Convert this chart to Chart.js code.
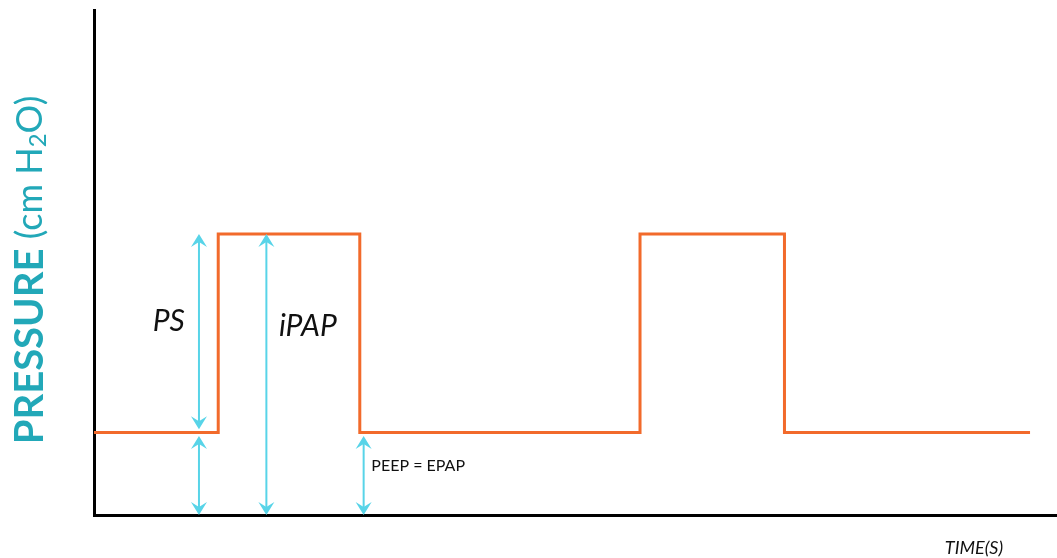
<!DOCTYPE html>
<html>
<head>
<meta charset="utf-8">
<script src="https://cdn.jsdelivr.net/npm/chart.js@4"></script>
<style>
    html, body { margin: 0; padding: 0; background: #fff; }
    #wrap { width: 1057px; height: 558px; }
</style>
</head>
<body>
<div id="wrap"><canvas id="pressureChart"></canvas></div>
<script>
// pressure trace (time in s, pressure in cm H2O)
const times = [0, 1.29, 2.76, 5.67, 7.17, 9.72];
const pressures = [4.9, 16.7, 4.9, 16.7, 4.9, 4.9];

// annotation arrows: x position and start/end pressure
const arrowX = [1.09, 1.09, 1.79, 2.80];
const arrowFrom = [5.1, 0, 0, 0];
const arrowTo = [16.7, 4.7, 16.7, 4.7];

// text labels
const labelText = ['PS', 'iPAP', 'PEEP = EPAP'];
const labelX = [0.61, 1.92, 2.88];
const labelY = [11.5, 11.2, 2.9];

const ORANGE = '#f26a2b';
const CYAN = '#58d4e8';
const TEAL = '#22a8b8';

function drawHead(ctx, x, y, dir) {
    // dir = -1 points up, 1 points down
    ctx.beginPath();
    ctx.moveTo(x, y);
    ctx.lineTo(x - 8, y - dir * 13);
    ctx.lineTo(x, y - dir * 8);
    ctx.lineTo(x + 8, y - dir * 13);
    ctx.closePath();
    ctx.fill();
}

const annotations = {
    id: 'annotations',
    afterDatasetsDraw(chart) {
        const ctx = chart.ctx;
        const xs = chart.scales.x, ys = chart.scales.y;
        ctx.save();
        ctx.strokeStyle = CYAN;
        ctx.fillStyle = CYAN;
        ctx.lineWidth = 2;
        arrowX.forEach((t, i) => {
            const px = xs.getPixelForValue(t);
            const y1 = ys.getPixelForValue(arrowFrom[i]);
            const y2 = ys.getPixelForValue(arrowTo[i]);
            ctx.beginPath();
            ctx.moveTo(px, y1 - 4);
            ctx.lineTo(px, y2 + 4);
            ctx.stroke();
            drawHead(ctx, px, y2, -1);
            drawHead(ctx, px, y1, 1);
        });

        ctx.fillStyle = '#111';
        ctx.textBaseline = 'middle';
        ctx.textAlign = 'left';
        labelText.forEach((txt, i) => {
            ctx.font = i < 2 ? 'italic 30px Lato' : '16px Lato';
            ctx.fillText(txt, xs.getPixelForValue(labelX[i]), ys.getPixelForValue(labelY[i]));
        });

        // x axis title
        ctx.font = 'italic 18px Lato';
        ctx.textAlign = 'center';
        ctx.fillText('TIME(S)', 974, 548);

        // y axis title with bold word and subscript
        ctx.translate(28, 270);
        ctx.rotate(-Math.PI / 2);
        ctx.fillStyle = TEAL;
        ctx.textAlign = 'left';
        ctx.textBaseline = 'middle';
        const parts = [
            ['bold 40px Lato', 'PRESSURE', 0],
            ['36px Lato', ' (cm H', 0],
            ['24px Lato', '2', 8],
            ['36px Lato', 'O)', 0]
        ];
        let total = 0;
        parts.forEach(p => { ctx.font = p[0]; total += ctx.measureText(p[1]).width; });
        let cx = -total / 2;
        parts.forEach(p => {
            ctx.font = p[0];
            ctx.fillText(p[1], cx, p[2] + 2);
            cx += ctx.measureText(p[1]).width;
        });
        ctx.restore();
    }
};

new Chart(document.getElementById('pressureChart'), {
    type: 'line',
    data: {
        datasets: [{
            data: times.map((t, i) => ({ x: t, y: pressures[i] })),
            borderColor: ORANGE,
            borderWidth: 3,
            stepped: 'before',
            pointRadius: 0,
            fill: false
        }]
    },
    options: {
        responsive: true,
        maintainAspectRatio: false,
        animation: false,
        layout: { padding: { top: 10, left: 0, right: 0, bottom: 0 } },
        plugins: {
            legend: { display: false },
            tooltip: { enabled: false }
        },
        scales: {
            x: {
                type: 'linear',
                min: 0,
                max: 10,
                grid: { display: false },
                ticks: { display: false },
                border: { color: '#000', width: 3 },
                afterFit(scale) { scale.height = 43; }
            },
            y: {
                min: 0,
                max: 30,
                grid: { display: false },
                ticks: { display: false },
                border: { color: '#000', width: 3 },
                afterFit(scale) { scale.width = 94; }
            }
        }
    },
    plugins: [annotations]
});
</script>
</body>
</html>
